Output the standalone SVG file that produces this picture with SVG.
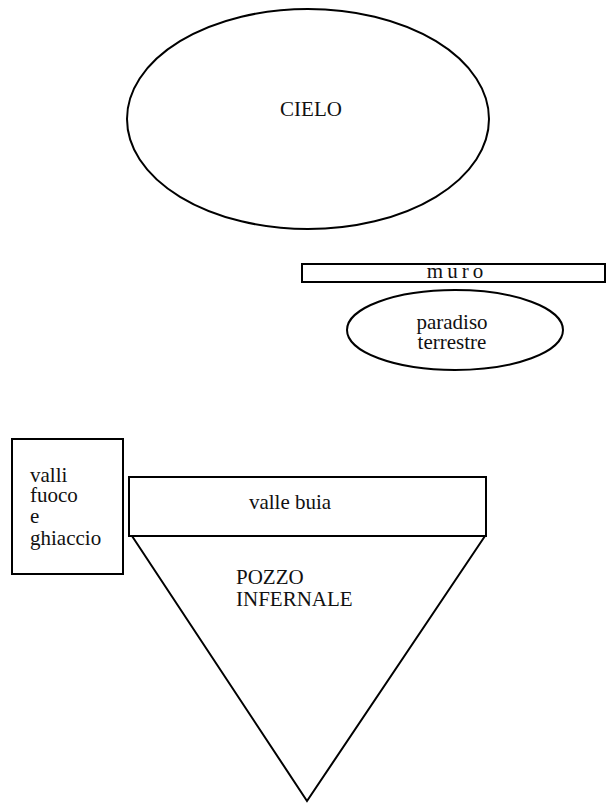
<svg xmlns="http://www.w3.org/2000/svg" width="606" height="803" viewBox="0 0 606 803">
<style>
.s{fill:none;stroke:#000;stroke-width:2}
.t{font-family:'Liberation Serif','Times New Roman','DejaVu Serif',serif;font-size:21px;fill:#111}
.c{text-anchor:middle}
</style>
<rect width="606" height="803" fill="#fff"/>
<g id="cielo">
<ellipse class="s" cx="308" cy="119" rx="181" ry="110"/>
<text class="t c" x="311" y="116">CIELO</text>
</g>
<g id="muro">
<rect class="s" x="302" y="264" width="303" height="18"/>
<text class="t c" x="457" y="278" letter-spacing="4">muro</text>
</g>
<g id="paradiso">
<ellipse class="s" cx="455" cy="330" rx="108" ry="40"/>
<text class="t c" x="452" y="329">paradiso</text>
<text class="t c" x="452" y="349">terrestre</text>
</g>
<g id="valli">
<rect class="s" x="12" y="439" width="111" height="135"/>
<text class="t" x="30" y="482">valli</text>
<text class="t" x="30" y="502">fuoco</text>
<text class="t" x="30" y="523">e</text>
<text class="t" x="30" y="545">ghiaccio</text>
</g>
<g id="valle-buia">
<rect class="s" x="129" y="477" width="357" height="59"/>
<text class="t c" x="290" y="509">valle buia</text>
</g>
<g id="pozzo">
<polyline class="s" points="132,536 307,801 485,536"/>
<text class="t" x="236" y="584">POZZO</text>
<text class="t" x="236" y="606">INFERNALE</text>
</g>
<g id="connectors"/>
</svg>
